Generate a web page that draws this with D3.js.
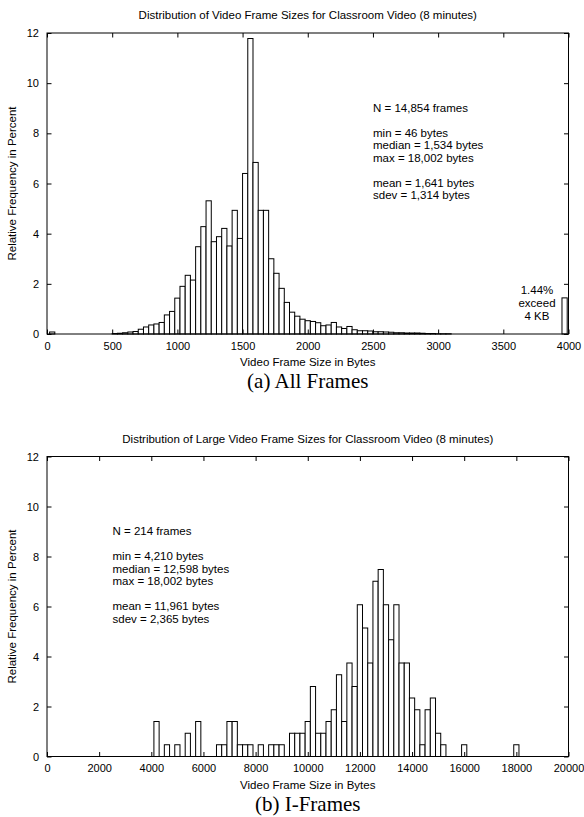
<!DOCTYPE html>
<html>
<head>
<meta charset="utf-8">
<script src="https://cdn.jsdelivr.net/npm/d3@7"></script>
<style>
  html, body { margin: 0; padding: 0; background: #fff; }
  svg text { font-family: "Liberation Sans", Arial, Helvetica, sans-serif; fill: #000; }
</style>
</head>
<body>
<svg id="chart" width="584" height="817"></svg>
<script>
// ---------------- data ----------------
// (a) All frames: bin centres (bytes, bin width 40) and relative frequency (%)
const allCenters = [40, 520, 560, 600, 640, 680, 720, 760, 800, 840, 880, 920, 960,
  1000, 1040, 1080, 1120, 1160, 1200, 1240, 1280, 1320, 1360, 1400, 1440, 1480,
  1520, 1560, 1600, 1640, 1680, 1720, 1760, 1800, 1840, 1880, 1920, 1960, 2000,
  2040, 2080, 2120, 2160, 2200, 2240, 2280, 2320, 2360, 2400, 2440, 2480, 2520,
  2560, 2600, 2640, 2680, 2720, 2760, 2800, 2840, 2880, 2920, 2960, 3000, 3040, 3080];
const allPct = [0.08, 0.02, 0.03, 0.05, 0.08, 0.10, 0.19, 0.28, 0.36, 0.40, 0.46, 0.76, 0.90,
  1.43, 1.90, 2.34, 2.15, 3.48, 4.28, 5.31, 3.68, 3.88, 4.21, 3.51, 4.93, 3.81,
  6.40, 11.78, 6.84, 4.93, 4.93, 3.00, 2.42, 1.82, 1.26, 0.87, 0.71, 0.59, 0.53,
  0.50, 0.45, 0.33, 0.36, 0.46, 0.28, 0.22, 0.30, 0.17, 0.13, 0.13, 0.12, 0.09,
  0.09, 0.08, 0.07, 0.05, 0.05, 0.04, 0.04, 0.04, 0.03, 0.02, 0.02, 0.01, 0.01, 0.01];
const overflowCenter = 3970;   // frames exceeding 4 KB
const overflowPct = 1.44;
const allBinWidth = 40;

// (b) I-frames: bin centres (bytes, bin width 200) and relative frequency (%)
const iCenters = [4200, 4600, 5000, 5400, 5800, 6600, 6800, 7000, 7200, 7400, 7600, 7800,
  8200, 8600, 8800, 9000, 9400, 9600, 9800, 10000, 10200, 10400, 10600, 10800, 11000,
  11200, 11400, 11600, 11800, 12000, 12200, 12400, 12600, 12800, 13000, 13200, 13400,
  13600, 13800, 14000, 14200, 14400, 14600, 14800, 15000, 15200, 16000, 18000];
const iPct = [1.40, 0.47, 0.47, 0.93, 1.40, 0.47, 0.47, 1.40, 1.40, 0.47, 0.47, 0.47,
  0.47, 0.47, 0.47, 0.47, 0.93, 0.93, 0.93, 1.40, 2.80, 0.93, 0.93, 1.40, 1.87,
  3.27, 1.40, 3.74, 2.80, 6.07, 5.14, 3.74, 7.01, 7.48, 6.07, 4.67, 6.07,
  3.74, 3.74, 2.34, 1.87, 0.47, 1.87, 2.34, 0.93, 0.47, 0.47, 0.47];
const iBinWidth = 200;

const yTicks = [0, 2, 4, 6, 8, 10, 12];
const xTicksA = [0, 500, 1000, 1500, 2000, 2500, 3000, 3500, 4000];
const xTicksB = [0, 2000, 4000, 6000, 8000, 10000, 12000, 14000, 16000, 18000, 20000];

const statsA = [["N = 14,854 frames"], ["min = 46 bytes", "median = 1,534 bytes", "max = 18,002 bytes"],
  ["mean = 1,641 bytes", "sdev = 1,314 bytes"]];
const statsB = [["N = 214 frames"], ["min = 4,210 bytes", "median = 12,598 bytes", "max = 18,002 bytes"],
  ["mean = 11,961 bytes", "sdev = 2,365 bytes"]];

// ---------------- drawing ----------------
const svg = d3.select("#chart");
const FS = 11;      // tick labels
const FS2 = 11.5;   // titles, labels, annotations

function panel(cfg) {
  const g = svg.append("g");
  const x = d3.scaleLinear().domain(cfg.xDomain).range([47, 568.5]);
  const y = d3.scaleLinear().domain([0, 12]).range([cfg.bottom, cfg.top]);
  const tl = 4.5;

  // bars
  const bars = cfg.centers.map((c, i) => ({ c, v: cfg.values[i] }));
  if (cfg.extra) bars.push(cfg.extra);
  g.selectAll("rect.bar").data(bars).enter().append("rect")
    .attr("class", "bar")
    .attr("x", d => x(d.c - cfg.bw / 2))
    .attr("width", d => x(d.c + cfg.bw / 2) - x(d.c - cfg.bw / 2))
    .attr("y", d => y(d.v))
    .attr("height", d => y(0) - y(d.v))
    .attr("fill", "#fff").attr("stroke", "#000").attr("stroke-width", 1);

  // axes (bottom & left with labels, top & right mirrored ticks)
  const xb = d3.axisBottom(x).tickValues(cfg.xTicks).tickSize(-tl).tickPadding(8).tickFormat(d3.format("d"));
  const xt = d3.axisTop(x).tickValues(cfg.xTicks).tickSize(-tl).tickFormat("");
  const yl = d3.axisLeft(y).tickValues(yTicks).tickSize(-tl).tickPadding(8).tickFormat(d3.format("d"));
  const yr = d3.axisRight(y).tickValues(yTicks).tickSize(-tl).tickFormat("");
  [[xb, `translate(0,${cfg.bottom})`], [xt, `translate(0,${cfg.top})`],
   [yl, `translate(47,0)`], [yr, `translate(568.5,0)`]].forEach(([ax, tr]) => {
    const a = g.append("g").attr("transform", tr).call(ax);
    a.select(".domain").remove();
    a.selectAll("line").attr("stroke", "#000");
    a.selectAll("text").attr("font-size", FS).attr("font-family", "Liberation Sans, Arial, sans-serif").attr("fill", "#000");
  });
  // border
  g.append("rect").attr("x", 47).attr("y", cfg.top).attr("width", 568.5 - 47)
    .attr("height", cfg.bottom - cfg.top).attr("fill", "none").attr("stroke", "#000").attr("stroke-width", 1);

  // title
  g.append("text").attr("x", (47 + 568.5) / 2).attr("y", cfg.top - 14)
    .attr("text-anchor", "middle").attr("font-size", FS2).text(cfg.title);
  // axis labels
  g.append("text").attr("x", (47 + 568.5) / 2).attr("y", cfg.bottom + 32)
    .attr("text-anchor", "middle").attr("font-size", FS2).text("Video Frame Size in Bytes");
  g.append("text").attr("transform", `translate(16,${(cfg.top + cfg.bottom) / 2}) rotate(-90)`)
    .attr("text-anchor", "middle").attr("font-size", FS2).text("Relative Frequency in Percent");
  // caption
  g.append("text").attr("x", (47 + 568.5) / 2).attr("y", cfg.bottom + 54)
    .attr("text-anchor", "middle").attr("font-size", 21)
    .style("font-family", "'Liberation Serif', 'Times New Roman', serif").text(cfg.caption);

  // stats block
  let yy = cfg.statsY;
  cfg.stats.forEach((grp, gi) => {
    if (gi > 0) yy += 12.5;
    grp.forEach(line => {
      g.append("text").attr("x", cfg.statsX).attr("y", yy).attr("font-size", FS2)
        .attr("dominant-baseline", "middle").text(line);
      yy += 12.5;
    });
  });
  return { g, x, y };
}

const pa = panel({
  xDomain: [0, 4000], top: 33, bottom: 334, centers: allCenters, values: allPct, bw: allBinWidth,
  extra: { c: overflowCenter, v: overflowPct }, xTicks: xTicksA,
  title: "Distribution of Video Frame Sizes for Classroom Video (8 minutes)",
  caption: "(a) All Frames", stats: statsA, statsX: 373, statsY: 108.5
});
["1.44%", "exceed", "4 KB"].forEach((t, i) => {
  pa.g.append("text").attr("x", 537).attr("y", 291 + i * 13).attr("text-anchor", "middle")
    .attr("dominant-baseline", "middle").attr("font-size", FS2).text(t);
});

panel({
  xDomain: [0, 20000], top: 456.5, bottom: 756.5, centers: iCenters, values: iPct, bw: iBinWidth,
  xTicks: xTicksB,
  title: "Distribution of Large Video Frame Sizes for Classroom Video (8 minutes)",
  caption: "(b) I-Frames", stats: statsB, statsX: 112.5, statsY: 532
});
</script>
</body>
</html>
